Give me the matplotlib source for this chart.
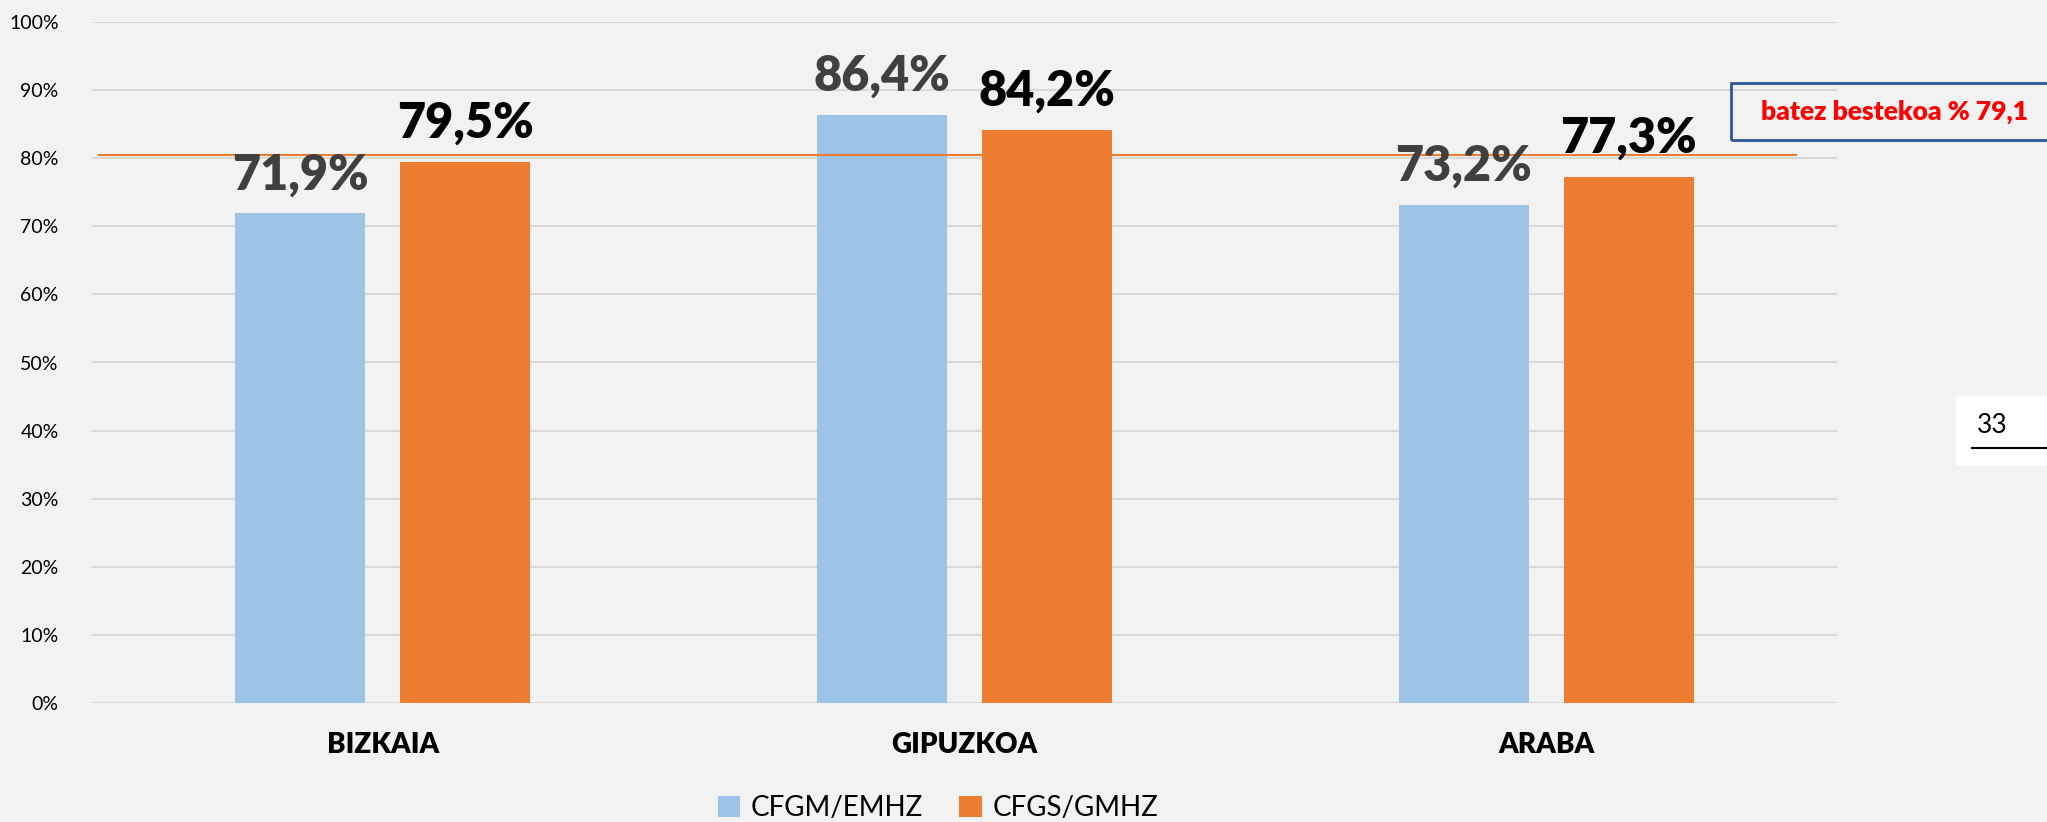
import numpy as np
import matplotlib.pyplot as plt
from matplotlib.patches import Rectangle

plt.rcParams['font.family'] = ['Lato', 'DejaVu Sans']

# Data
provinces = ['BIZKAIA', 'GIPUZKOA', 'ARABA']
cfgm = [71.9, 86.4, 73.2]
cfgs = [79.5, 84.2, 77.3]
series_names = ['CFGM/EMHZ', 'CFGS/GMHZ']
avg_line = 80.5          # where the reference draws the average line
avg_text = 'batez bestekoa % 79,1'
page_number = '33'

blue = '#9DC3E6'
orange = '#ED7D31'
bg = '#F2F2F2'

fig = plt.figure(figsize=(20.47, 8.22), dpi=100, facecolor=bg)
ax = fig.add_axes([92 / 2047, 1 - 703 / 822, (1837 - 92) / 2047, 681 / 822])
ax.set_facecolor(bg)

x = np.arange(len(provinces))
w = 0.2235
off = 0.142
b1 = ax.bar(x - off, cfgm, w, color=blue, label=series_names[0], zorder=3)
b2 = ax.bar(x + off, cfgs, w, color=orange, label=series_names[1], zorder=3)

# value labels
for xi, v in zip(x - off, cfgm):
    ax.text(xi, v + 3.5, f'{v:.1f}%'.replace('.', ','), ha='center', va='baseline',
            fontsize=35, fontweight='heavy', color='#404040', zorder=5)
for xi, v in zip(x + off, cfgs):
    ax.text(xi, v + 3.5, f'{v:.1f}%'.replace('.', ','), ha='center', va='baseline',
            fontsize=35, fontweight='heavy', color='black', zorder=5)

# average line
ax.plot([-0.488, 2.429], [avg_line, avg_line], color=orange, lw=1.5, zorder=4)

ax.set_xlim(-0.5, 2.5)
ax.set_ylim(0, 100)
ax.set_yticks(np.arange(0, 101, 10))
ax.set_yticklabels([f'{t}%' for t in range(0, 101, 10)], fontsize=14)
ax.set_xticks(x)
ax.set_xticklabels(provinces, fontsize=20, fontweight='heavy')
ax.tick_params(axis='both', length=0)
ax.tick_params(axis='y', pad=24)
ax.tick_params(axis='x', pad=21)
ax.grid(axis='y', color='#D9D9D9', lw=1.5, zorder=0)
for s in ax.spines.values():
    s.set_visible(False)

leg = fig.legend(handles=[b1, b2], loc='center', bbox_to_anchor=(938 / 2047, 1 - 808 / 822),
                 ncol=2, frameon=False, fontsize=20, handlelength=0.8, handleheight=0.8,
                 columnspacing=1.3, handletextpad=0.4)

# average annotation box
fig.patches.append(Rectangle((1731 / 2047, 1 - 140 / 822), 320 / 2047, 57 / 822,
                             transform=fig.transFigure, facecolor='none',
                             edgecolor='#2F5597', lw=2))
fig.text(1895 / 2047, 1 - 112 / 822, avg_text, ha='center', va='center',
         fontsize=19, fontweight='heavy', color='red')

# page number box
fig.patches.append(Rectangle((1956 / 2047, 1 - 466 / 822), 95 / 2047, 70 / 822,
                             transform=fig.transFigure, facecolor='white', edgecolor='none'))
fig.text(1977 / 2047, 1 - 425 / 822, page_number, ha='left', va='center',
         fontsize=19, color='black')
fig.lines.append(plt.Line2D([1972 / 2047, 1.0], [1 - 448 / 822, 1 - 448 / 822],
                            transform=fig.transFigure, color='black', lw=1.5))

fig.savefig('out.png', dpi=100, facecolor=bg)
